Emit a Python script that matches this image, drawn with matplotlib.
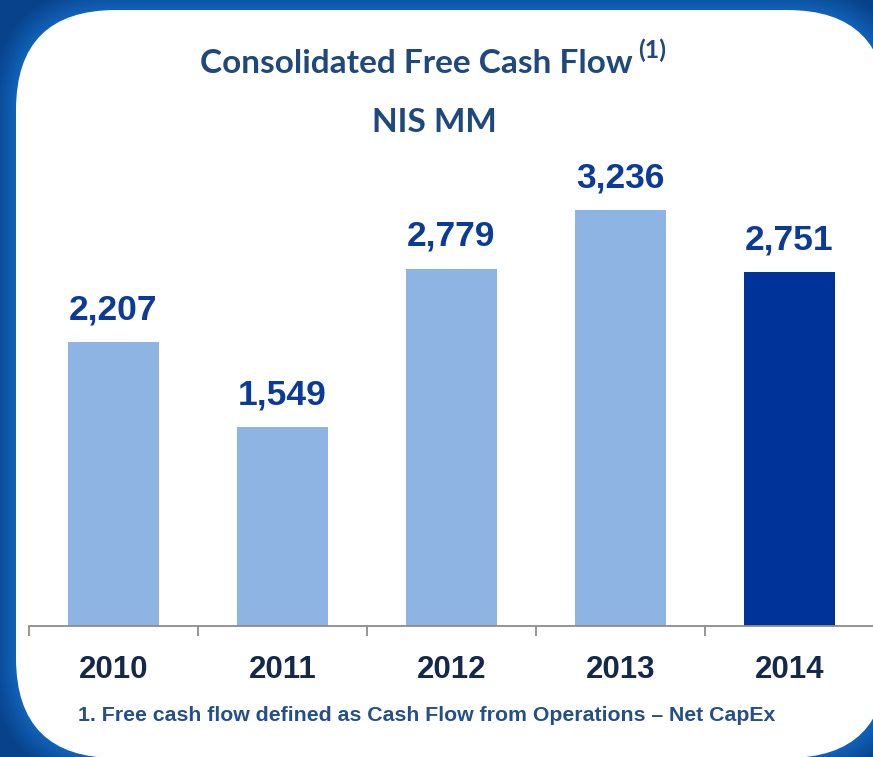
"""
Consolidated Free Cash Flow bar chart (NIS MM)
"""
import matplotlib
matplotlib.use('Agg')
import matplotlib.pyplot as plt
import matplotlib.colors as mcolors
import numpy as np
from matplotlib.patches import FancyBboxPatch

years = ['2010', '2011', '2012', '2013', '2014']
fcf = [2207, 1549, 2779, 3236, 2751]
bar_colors = ['#8eb4e3', '#8eb4e3', '#8eb4e3', '#8eb4e3', '#003399']

W, H = 873, 757


def plot_fcf():
    fig = plt.figure(figsize=(W / 100, H / 100), dpi=100)
    fig.patch.set_facecolor('#08428a')

    # background panel in pixel coordinates
    bg = fig.add_axes([0, 0, 1, 1], zorder=0)
    bg.set_xlim(0, W)
    bg.set_ylim(H, 0)
    bg.axis('off')

    # blue frame, lighter towards the white panel
    dark = np.array(mcolors.to_rgb('#08428a'))
    light = np.array(mcolors.to_rgb('#1060b6'))
    offs = np.arange(24, 0, -2)
    for i, off in enumerate(offs):
        t = (i + 1) / len(offs)
        col = dark + (light - dark) * t
        bg.add_patch(FancyBboxPatch((16 - off, 10 - off), 871 + 2 * off, 748 + 2 * off,
                                    boxstyle='round,pad=0,rounding_size=%d' % (100 + off),
                                    fc=col, ec='none'))
    bg.add_patch(FancyBboxPatch((16, 10), 871, 748,
                                boxstyle='round,pad=0,rounding_size=100',
                                fc='white', ec='none'))

    # titles
    title_col = '#1f497d'
    bg.text(416, 73, 'Consolidated Free Cash Flow', ha='center', va='baseline',
            fontsize=24, fontweight='bold', family='Lato', color=title_col)
    bg.text(638, 58, '(1)', ha='left', va='baseline',
            fontsize=18, fontweight='bold', family='Lato', color=title_col)
    bg.text(434, 132, 'NIS MM', ha='center', va='baseline',
            fontsize=24, fontweight='bold', family='Lato', color=title_col)

    # footnote
    bg.text(427, 721, '1. Free cash flow defined as Cash Flow from Operations \u2013 Net CapEx',
            ha='center', va='baseline', fontsize=15.3, fontweight='bold',
            family='Liberation Sans', color='#24508a')

    # bar chart
    ax = fig.add_axes([29 / W, (H - 626) / H, 845 / W, 486 / H], zorder=1)
    ax.patch.set_alpha(0)
    x = range(len(years))
    ax.bar(x, fcf, width=0.54, color=bar_colors)
    ax.set_xlim(-0.5, len(years) - 0.5)
    ax.set_ylim(0, 3782)

    for xi, v in zip(x, fcf):
        ax.annotate(f'{v:,}', (xi, v), xytext=(0, 16.5), textcoords='offset points',
                    ha='center', va='baseline', fontsize=25.5, fontweight='bold',
                    family='Liberation Sans', color='#0a3a9a')

    for s in ['top', 'right', 'left']:
        ax.spines[s].set_visible(False)
    ax.spines['bottom'].set_color('#8c8c8c')
    ax.spines['bottom'].set_linewidth(1.3)
    ax.set_yticks([])

    ax.set_xticks([i - 0.5 for i in range(len(years) + 1)])
    ax.set_xticklabels([])
    ax.tick_params(axis='x', which='major', length=7, width=1.3, color='#8c8c8c')
    ax.set_xticks(list(x), labels=years, minor=True)
    ax.tick_params(axis='x', which='minor', length=0, pad=21)
    for lbl in ax.get_xticklabels(minor=True):
        lbl.set_fontsize(22.5)
        lbl.set_fontweight('bold')
        lbl.set_family('Liberation Sans')
        lbl.set_color('#14284b')

    fig.savefig('out.png', dpi=100, facecolor=fig.get_facecolor())


if __name__ == '__main__':
    plot_fcf()
